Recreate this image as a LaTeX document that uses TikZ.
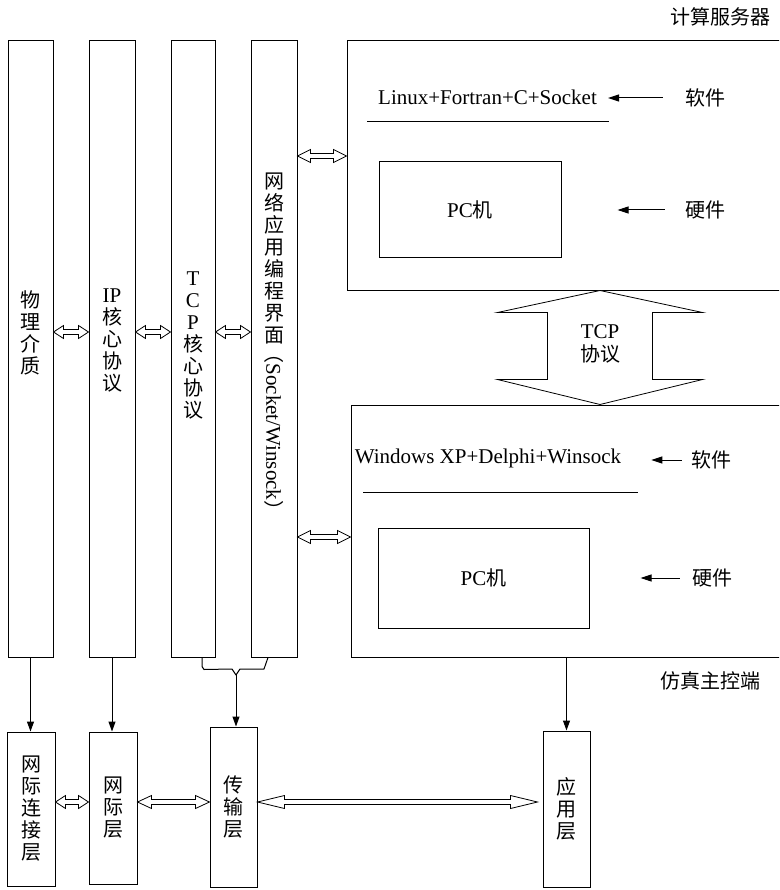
\documentclass[tikz,border=0pt]{standalone}
\usepackage{fontspec}
\setmainfont{Liberation Serif}
\newfontfamily\cjk{Noto Sans CJK SC}
\usetikzlibrary{arrows.meta,calc}
\newcommand{\zhfont}{\cjk\fontsize{20}{22}\selectfont}
\newcommand{\lat}[1]{{\rmfamily\fontsize{21}{23}\selectfont #1}}
\newcommand{\layer}[6]{%
  \node[layerbox,minimum width={#4-#2},minimum height={#5-#3}] (#1)
    at ({(#2+#4)/2},{(#3+#5)/2}) {#6};
}
\newcommand{\dblarrow}[3][10]{%
  \draw[hollow] let \p1=(#2), \p2=(#3) in
    (\p1) -- ++(#1pt,6.5pt) -- ++(0pt,-4pt) -- (\x2-#1pt,\y1+2.5pt)
    -- ++(0pt,4pt) -- (\x2,\y1) -- ++(-#1pt,-6.5pt) -- ++(0pt,4pt)
    -- (\x1+#1pt,\y1-2.5pt) -- ++(0pt,-4pt) -- cycle;
}

\begin{document}
\begin{tikzpicture}[x=1pt,y=-1pt,font=\fontsize{21}{23}\selectfont,
    layerbox/.style={draw,line width=1pt,inner sep=0pt,align=center,font=\zhfont},
    zhstack/.style={inner sep=0pt,align=center,font=\zhfont},
    zhtext/.style={inner sep=1pt,font=\zhfont},
    entext/.style={inner sep=1pt},
    hollow/.style={draw,fill=white,line width=0.8pt},
    pointer/.style={-{Triangle[length=11pt,width=7pt]},line width=1pt},
    down/.style={-{Triangle[length=10pt,width=7pt]},line width=1pt}]
  \useasboundingbox (0,0) rectangle (779,890);
  \clip (0,0) rectangle (779,890);

  % protocol columns
  \layer{wuli}{8}{41}{53}{657}{}
  \layer{ipcore}{89}{41}{135}{657}{}
  \layer{tcpcore}{171}{41}{215}{657}{}
  \layer{api}{251}{41}{297}{657}{}
  \node[zhstack] (wuli-t) at (30.5,333) {物\\理\\介\\质};
  \node[zhstack] (ipcore-t) at (112,340) {\lat{IP}\\核\\心\\协\\议};
  \node[zhstack] (tcpcore-t) at (193,345) {\lat{T}\\\lat{C}\\\lat{P}\\核\\心\\协\\议};
  \node[zhstack] (api-zh) at (274,258) {网\\络\\应\\用\\编\\程\\界\\面};
  \node[inner sep=0pt,rotate=-90] (api-en) at (274,432) {{\zhfont （}Socket/Winsock{\zhfont ）}};

  % server and client
  \layer{server}{347}{41}{790}{290}{}
  \layer{client}{351}{405}{790}{657}{}
  \layer{srvpc}{379}{162}{561}{258}{\lat{PC}机}
  \layer{clipc}{378}{528}{589}{628}{\lat{PC}机}
  \node[entext] (srvsw) at (487.5,97) {Linux+Fortran+C+Socket};
  \node[entext] (clisw) at (488,458) {Windows XP+Delphi+Winsock};
  \draw[line width=1pt] (367,122) -- (609,122);
  \draw[line width=1pt] (363,492) -- (638,492);
  \node[zhtext] (srvswl) at (705,98) {软件};
  \node[zhtext] (srvhwl) at (705,210) {硬件};
  \node[zhtext] (cliswl) at (711,460) {软件};
  \node[zhtext] (clihwl) at (712,578) {硬件};
  \draw[pointer,shorten >=10pt] ([xshift=-21pt]srvswl.west) -- (srvswl.west -| srvsw.east);
  \draw[pointer,shorten >=56pt] ([xshift=-19pt]srvhwl.west) -- (srvhwl.west -| srvpc.east);
  \draw[pointer,shorten >=29pt] ([xshift=-8pt]cliswl.west) -- (cliswl.west -| clisw.east);
  \draw[pointer,shorten >=51pt] ([xshift=-11pt]clihwl.west) -- (clihwl.west -| clipc.east);
  \node[zhtext] (srvname) at (720,17) {计算服务器};
  \node[zhtext] (cliname) at (710,681) {仿真主控端};

  % TCP link between the two machines
  \coordinate (tcpx) at (600,0);
  \draw[hollow] let \p1=(tcpx |- server.south), \p2=(tcpx |- client.north) in
    (\p1) -- (\x1+102.5pt,\y1-22pt) -- (\x1+52.5pt,\y1-22pt) -- (\x1+52.5pt,\y2+25pt)
    -- (\x1+102.5pt,\y2+25pt) -- (\p2) -- (\x1-102.5pt,\y2+25pt) -- (\x1-52.5pt,\y2+25pt)
    -- (\x1-52.5pt,\y1-22pt) -- (\x1-102.5pt,\y1-22pt) -- cycle;
  \node[align=center,inner sep=0pt] (tcptext) at (600,344) {TCP\\{\zhfont 协议}};

  % layer boxes
  \layer{link}{7}{732}{55}{886}{网\\际\\连\\接\\层}
  \layer{inet}{89}{732}{137}{884}{网\\际\\层}
  \layer{trans}{210}{727}{257}{887}{传\\输\\层}
  \layer{app}{543}{731}{590}{887}{应\\用\\层}

  % double arrows
  \coordinate (midrow) at (0,332);
  \coordinate (srvrow) at (0,156);
  \coordinate (clirow) at (0,537);
  \coordinate (botrow) at (0,802);
  \dblarrow{wuli.east |- midrow}{ipcore.west |- midrow}
  \dblarrow{ipcore.east |- midrow}{tcpcore.west |- midrow}
  \dblarrow{tcpcore.east |- midrow}{api.west |- midrow}
  \dblarrow[13]{api.east |- srvrow}{server.west |- srvrow}
  \dblarrow[13]{api.east |- clirow}{client.west |- clirow}
  \dblarrow{link.east |- botrow}{inet.west |- botrow}
  \dblarrow[14]{inet.east |- botrow}{trans.west |- botrow}
  \dblarrow[27]{trans.east |- botrow}{[xshift=-5pt]app.west |- botrow}

  % mapping onto the layers
  \coordinate (brace) at (236,675);
  \draw[line width=1pt,line join=round] ([xshift=9pt]tcpcore.south) -- ++(0,9) -- ++(2,3)
    -- (232,669) -- (brace) -- (240,669) -- (264,669) -- ([xshift=-6pt]api.south);
  \draw[down] (wuli.south) -- (wuli.south |- link.north);
  \draw[down] (ipcore.south) -- (ipcore.south |- inet.north);
  \draw[down] (brace) -- (brace |- trans.north);
  \draw[down] (client.south -| app.north) -- (app.north);
\end{tikzpicture}
\end{document}
